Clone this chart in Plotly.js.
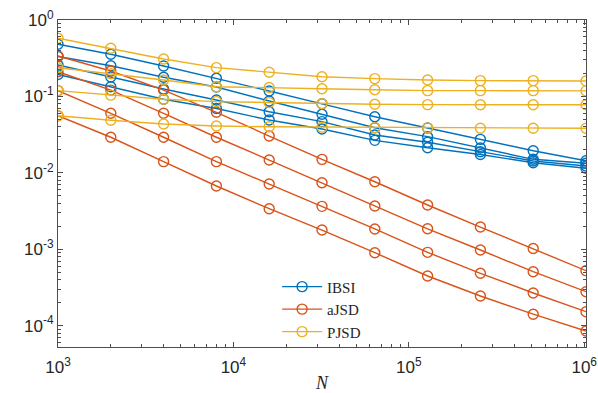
<!DOCTYPE html>
<html>
<head>
<meta charset="utf-8">
<script src="https://cdn.plot.ly/plotly-3.0.1.min.js"></script>
<style>
  html, body { margin: 0; padding: 0; background: #fff; }
  #chart { width: 598px; height: 393px; }
</style>
</head>
<body>
<div id="chart"></div>
<script>
// N values (doubling from 1e3)
const N = [1000, 2000, 4000, 8000, 16000, 32000, 64000, 128000, 256000, 512000, 1024000];

// IBSI curves
const ibsi1 = [0.481, 0.356, 0.250, 0.1726, 0.1177, 0.0800, 0.0542, 0.0386, 0.0274, 0.01947, 0.0144];
const ibsi2 = [0.333, 0.252, 0.178, 0.1327, 0.0871, 0.0583, 0.0389, 0.0297, 0.0211, 0.01502, 0.01331];
const ibsi3 = [0.2576, 0.1795, 0.125, 0.0897, 0.0630, 0.0467, 0.0313, 0.0251, 0.01888, 0.01427, 0.01227];
const ibsi4 = [0.1935, 0.134, 0.0917, 0.0695, 0.0491, 0.0374, 0.0266, 0.0213, 0.01737, 0.01356, 0.01145];

// aJSD curves
const ajsd1 = [0.338, 0.215, 0.121, 0.0619, 0.0303, 0.0150, 0.00764, 0.00379, 0.00195, 0.00102, 0.000524];
const ajsd2 = [0.210, 0.121, 0.0601, 0.0292, 0.0147, 0.00742, 0.00368, 0.00185, 0.000977, 0.000508, 0.000278];
const ajsd3 = [0.119, 0.0601, 0.0292, 0.0140, 0.00713, 0.00364, 0.00184, 0.000910, 0.000484, 0.000267, 0.000152];
const ajsd4 = [0.0559, 0.0292, 0.0140, 0.00672, 0.00339, 0.00178, 0.000900, 0.000446, 0.000244, 0.000141, 0.0000849];

// PJSD curves
const pjsd1 = [0.576, 0.426, 0.309, 0.238, 0.207, 0.181, 0.171, 0.164, 0.161, 0.161, 0.159];
const pjsd2 = [0.2375, 0.198, 0.164, 0.134, 0.131, 0.126, 0.122, 0.119, 0.119, 0.119, 0.118];
const pjsd3 = [0.119, 0.104, 0.0917, 0.0855, 0.083, 0.0800, 0.0790, 0.0780, 0.0779, 0.0779, 0.0778];
const pjsd4 = [0.0559, 0.0487, 0.0435, 0.0410, 0.0400, 0.0396, 0.0390, 0.0387, 0.0383, 0.0383, 0.0383];

// tick labels
const xTickVals = [1e3, 1e4, 1e5, 1e6];
const xTickText = ['10<sup>3</sup>', '10<sup>4</sup>', '10<sup>5</sup>', '10<sup>6</sup>'];
const yTickVals = [1e-4, 1e-3, 1e-2, 1e-1, 1];
const yTickText = ['10<sup>-4</sup>', '10<sup>-3</sup>', '10<sup>-2</sup>', '10<sup>-1</sup>', '10<sup>0</sup>'];

// minor ticks 2..9 of each decade
function minorTicks(lo, hi) {
  let out = [];
  for (let e = lo; e < hi; e++) for (let m = 2; m <= 9; m++) out.push(m * Math.pow(10, e));
  return out;
}

const groups = [
  {name: 'IBSI', color: '#0072BD', series: [ibsi1, ibsi2, ibsi3, ibsi4]},
  {name: 'aJSD', color: '#D95319', series: [ajsd1, ajsd2, ajsd3, ajsd4]},
  {name: 'PJSD', color: '#EDB120', series: [pjsd1, pjsd2, pjsd3, pjsd4]},
];

let traces = [];
groups.forEach(g => {
  g.series.forEach((ys, i) => {
    traces.push({
      x: N,
      y: ys,
      type: 'scatter',
      mode: 'lines+markers',
      name: g.name,
      legendgroup: g.name,
      showlegend: i === 0,
      line: {color: g.color, width: 1.4},
      marker: {symbol: 'circle-open', size: 10, color: g.color, line: {width: 1.4, color: g.color}},
    });
  });
});

const axisCommon = {
  type: 'log',
  showgrid: false,
  zeroline: false,
  showline: true,
  linecolor: '#4d4d4d',
  linewidth: 1,
  mirror: 'ticks',
  ticks: 'inside',
  ticklen: 5,
  tickcolor: '#4d4d4d',
  tickmode: 'array',
  tickfont: {family: 'Liberation Sans, Arial, sans-serif', size: 17, color: '#262626'},
};

const layout = {
  width: 598,
  height: 393,
  margin: {l: 58, r: 12, t: 20, b: 46},
  paper_bgcolor: '#fff',
  plot_bgcolor: '#fff',
  xaxis: Object.assign({}, axisCommon, {
    range: [3, Math.log10(1024000)],
    tickvals: xTickVals,
    ticktext: xTickText,
    ticklabelstandoff: 5,
    minor: {tickmode: 'array', tickvals: minorTicks(3, 6), ticks: 'inside', ticklen: 3, tickcolor: '#4d4d4d', showgrid: false},
    title: {text: '<i>N</i>', font: {family: 'Liberation Serif, serif', size: 18, color: '#262626'}, standoff: 6},
  }),
  yaxis: Object.assign({}, axisCommon, {
    range: [-4.28, 0],
    tickvals: yTickVals,
    ticktext: yTickText,
    minor: {tickmode: 'array', tickvals: minorTicks(-5, 0), ticks: 'inside', ticklen: 3, tickcolor: '#4d4d4d', showgrid: false},
  }),
  showlegend: true,
  legend: {
    x: 0.415, y: 0.115, xanchor: 'left', yanchor: 'middle',
    bgcolor: 'rgba(255,255,255,0)',
    borderwidth: 0,
    itemwidth: 40,
    tracegroupgap: 0,
    font: {family: 'Liberation Serif, serif', size: 15, color: '#262626'},
  },
};

Plotly.newPlot('chart', traces, layout, {staticPlot: true, displayModeBar: false});
</script>
</body>
</html>
